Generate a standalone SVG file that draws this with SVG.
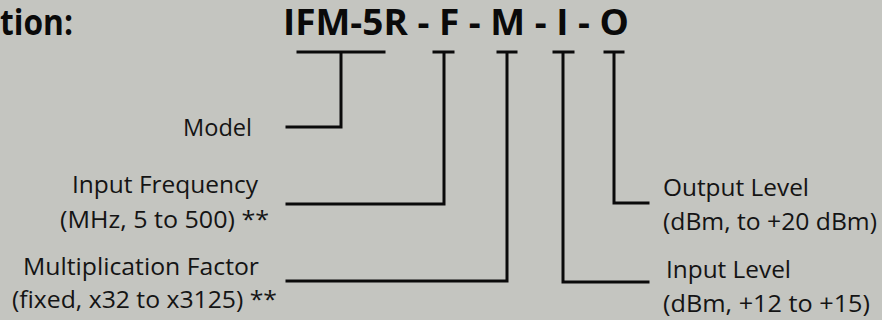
<svg xmlns="http://www.w3.org/2000/svg" width="882" height="320" viewBox="0 0 882 320">
<style>
.lbl{font-family:"Open Sans","Liberation Sans",sans-serif;font-size:23px;fill:#141414}
.ttl{font-family:"Open Sans","Liberation Sans",sans-serif;font-size:35px;font-weight:bold;fill:#0a0a0a}
.ln{fill:none;stroke:#0a0a0a;stroke-width:3;stroke-linecap:square;stroke-linejoin:miter}
</style>
<rect width="882" height="320" fill="#c4c5c0"/>
<g id="title">
<text class="ttl" x="73" y="35" text-anchor="end" textLength="73" lengthAdjust="spacingAndGlyphs">tion:</text>
<text class="ttl" x="283" y="35" textLength="346" lengthAdjust="spacingAndGlyphs">IFM-5R - F - M - I - O</text>
</g>
<g id="connectors">
<path class="ln" d="M298,52 H384 M341,52 V127 H287"/>
<path class="ln" d="M434,52 H453 M444,52 V204 H287"/>
<path class="ln" d="M498,52 H516 M507,52 V281 H287"/>
<path class="ln" d="M554,52 H573 M563,52 V282 H648"/>
<path class="ln" d="M605,52 H623 M614,52 V203 H648"/>
</g>
<g id="model">
<text class="lbl" x="183" y="136" textLength="69" lengthAdjust="spacingAndGlyphs">Model</text>
</g>
<g id="input-frequency">
<text class="lbl" x="72" y="193" textLength="186" lengthAdjust="spacingAndGlyphs">Input Frequency</text>
<text class="lbl" x="60" y="228" textLength="209" lengthAdjust="spacingAndGlyphs">(MHz, 5 to 500) **</text>
</g>
<g id="multiplication-factor">
<text class="lbl" x="23" y="275" textLength="236" lengthAdjust="spacingAndGlyphs">Multiplication Factor</text>
<text class="lbl" x="12" y="308" textLength="265" lengthAdjust="spacingAndGlyphs">(fixed, x32 to x3125) **</text>
</g>
<g id="output-level">
<text class="lbl" x="663" y="196" textLength="146" lengthAdjust="spacingAndGlyphs">Output Level</text>
<text class="lbl" x="663" y="230" textLength="214" lengthAdjust="spacingAndGlyphs">(dBm, to +20 dBm)</text>
</g>
<g id="input-level">
<text class="lbl" x="666" y="278" textLength="125" lengthAdjust="spacingAndGlyphs">Input Level</text>
<text class="lbl" x="663" y="312" textLength="207" lengthAdjust="spacingAndGlyphs">(dBm, +12 to +15)</text>
</g>
</svg>
